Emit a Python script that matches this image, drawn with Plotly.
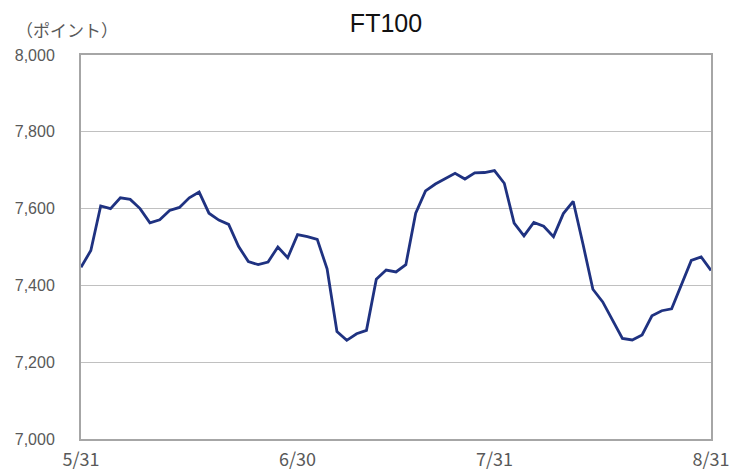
import plotly.graph_objects as go

dates = [
    "5/31", "6/1", "6/2", "6/5", "6/6", "6/7", "6/8", "6/9", "6/12", "6/13", "6/14", "6/15",
    "6/16", "6/19", "6/20", "6/21", "6/22", "6/23", "6/26", "6/27", "6/28", "6/29", "6/30",
    "7/3", "7/4", "7/5", "7/6", "7/7", "7/10", "7/11", "7/12", "7/13", "7/14", "7/18", "7/19",
    "7/20", "7/21", "7/24", "7/25", "7/26", "7/27", "7/28", "7/31",
    "8/1", "8/2", "8/3", "8/4", "8/7", "8/8", "8/9", "8/10", "8/14", "8/15", "8/16", "8/17",
    "8/18", "8/21", "8/22", "8/23", "8/24", "8/25", "8/28", "8/29", "8/30", "8/31",
]
values = [
    7447, 7491, 7607, 7600, 7628, 7624, 7600, 7563, 7571, 7595, 7603, 7628,
    7643, 7588, 7570, 7559, 7502, 7462, 7454, 7461, 7500, 7472, 7532,
    7527, 7520, 7443, 7280, 7257, 7274, 7283, 7416, 7440, 7435, 7454, 7588,
    7646, 7664, 7679, 7692, 7677, 7693, 7694, 7699,
    7666, 7562, 7529, 7564, 7554, 7527, 7587, 7619, 7507, 7390, 7357, 7310,
    7262, 7258, 7271, 7321, 7334, 7339, None, 7465, 7474, 7439,
]
tick_labels = ["5/31", "6/30", "7/31", "8/31"]
y_ticks = [7000, 7200, 7400, 7600, 7800, 8000]

x_idx = list(range(len(dates)))
tick_pos = [dates.index(t) for t in tick_labels]

# page body has an 8px default margin; the figure is sized to fill the rest of the window
W, H = 742, 465
fig = go.Figure()
fig.add_trace(go.Scatter(
    x=x_idx, y=values, mode="lines", connectgaps=True,
    line=dict(color="#1F3281", width=2.8),
    text=dates, hovertemplate="%{text}: %{y:,}<extra></extra>",
))

fig.update_layout(
    width=W, height=H,
    margin=dict(l=73, r=39, t=47, b=34, autoexpand=False),
    paper_bgcolor="white", plot_bgcolor="white",
    showlegend=False,
    title=dict(text="FT100", x=378/W, xref="container", xanchor="center",
               y=1 - 15/H, yref="container", yanchor="middle",
               font=dict(family="Liberation Sans, Arial, sans-serif", size=25, color="#111111")),
    font=dict(family="Liberation Sans, Arial, sans-serif", color="#595959"),
)
fig.update_xaxes(
    range=[0, len(dates) - 1], tickvals=tick_pos, ticktext=tick_labels,
    showgrid=False, zeroline=False, automargin=False,
    showline=True, mirror=True, linecolor="#A6A6A6", linewidth=2,
    ticks="", ticklabelstandoff=3,
    tickfont=dict(family="Noto Sans CJK JP", size=18, color="#595959"),
)
fig.update_yaxes(
    range=[7000, 8000], tickvals=y_ticks, tickformat=",",
    showgrid=True, gridcolor="#C0C0C0", gridwidth=1.3, zeroline=False, automargin=False,
    showline=True, mirror=True, linecolor="#A6A6A6", linewidth=2,
    ticks="", ticklabelstandoff=21,
    tickfont=dict(family="Liberation Sans, Arial, sans-serif", size=16, color="#595959"),
)
fig.add_annotation(
    text="（ポイント）", xref="paper", yref="paper",
    x=-67/630, y=1 + 25/384,
    xanchor="left", yanchor="middle", showarrow=False,
    font=dict(family="Noto Sans CJK JP", size=17, color="#595959"),
)

fig.write_html("out.html")
